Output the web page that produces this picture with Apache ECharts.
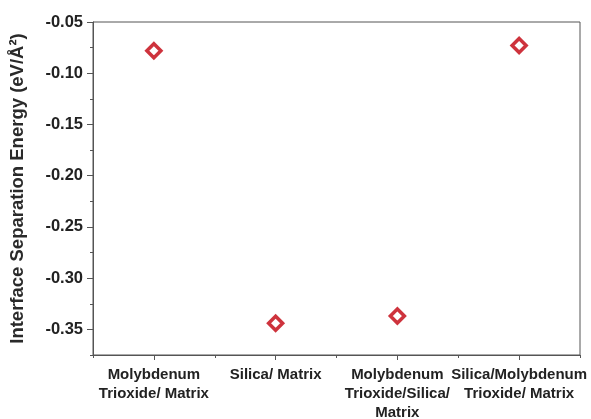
<!DOCTYPE html>
<html>
<head>
<meta charset="utf-8">
<script src="https://cdn.jsdelivr.net/npm/echarts@6/dist/echarts.min.js"></script>
<style>
  html, body { margin: 0; padding: 0; background: #fff; }
  #chart { width: 591px; height: 419px; }
</style>
</head>
<body>
<div id="chart"></div>
<script>
// Interface systems (one per x position 1..4)
const categories = [
  'Molybdenum\nTrioxide/ Matrix',
  'Silica/ Matrix',
  'Molybdenum\nTrioxide/Silica/\nMatrix',
  'Silica/Molybdenum\nTrioxide/ Matrix'
];
// Interface separation energy, eV/Å²
const energies = [-0.078, -0.344, -0.337, -0.073];
// Y tick labels
const yTicks = [-0.35, -0.30, -0.25, -0.20, -0.15, -0.10, -0.05];
const yMinorTicks = [-0.375, -0.325, -0.275, -0.225, -0.175, -0.125, -0.075];

const catPos = categories.map((_, i) => i + 1);
const halfPos = [0.5, 1.5, 2.5, 3.5, 4.5];
const axisColor = '#555';
const font = 'Liberation Sans, Arial, sans-serif';

const chart = echarts.init(document.getElementById('chart'));
chart.setOption({
  animation: false,
  backgroundColor: '#fff',
  grid: {
    left: 93, right: 11, top: 22, bottom: 64,
    outerBoundsMode: 'none', containLabel: false,
    show: true, borderColor: axisColor, borderWidth: 1
  },
  xAxis: [
    {
      type: 'value', min: 0.5, max: 4.5,
      splitLine: { show: false },
      axisLine: { show: true, lineStyle: { color: axisColor, width: 1 } },
      axisTick: { show: true, customValues: catPos, length: 5, lineStyle: { color: axisColor } },
      axisLabel: {
        customValues: catPos,
        formatter: v => categories[Math.round(v) - 1] || '',
        color: '#222', fontFamily: font, fontWeight: 'bold', fontSize: 15,
        lineHeight: 19, margin: 10
      }
    },
    {
      type: 'value', min: 0.5, max: 4.5, position: 'bottom',
      splitLine: { show: false },
      axisLine: { show: false },
      axisTick: { show: true, customValues: halfPos, length: 3, lineStyle: { color: axisColor } },
      axisLabel: { show: false }
    }
  ],
  yAxis: [
    {
      type: 'value', min: -0.375, max: -0.05,
      name: 'Interface Separation Energy (eV/Å²)',
      nameLocation: 'middle', nameGap: 66,
      nameTextStyle: { color: '#2a2a2a', fontFamily: font, fontWeight: 'bold', fontSize: 18.5 },
      splitLine: { show: false },
      axisLine: { show: true, lineStyle: { color: axisColor, width: 1 } },
      axisTick: { show: true, customValues: yTicks, length: 6, lineStyle: { color: axisColor } },
      axisLabel: {
        customValues: yTicks,
        formatter: v => v.toFixed(2),
        color: '#222', fontFamily: font, fontWeight: 'bold', fontSize: 16.5, margin: 10
      }
    },
    {
      type: 'value', min: -0.375, max: -0.05, position: 'left',
      splitLine: { show: false },
      axisLine: { show: false },
      axisTick: { show: true, customValues: yMinorTicks, length: 3, lineStyle: { color: axisColor } },
      axisLabel: { show: false }
    }
  ],
  series: [{
    type: 'scatter',
    data: energies.map((v, i) => [catPos[i], v]),
    symbol: 'diamond',
    symbolSize: 14,
    itemStyle: { color: '#fff', borderColor: '#c2000c', borderWidth: 3.5 }
  }]
});
</script>
</body>
</html>
